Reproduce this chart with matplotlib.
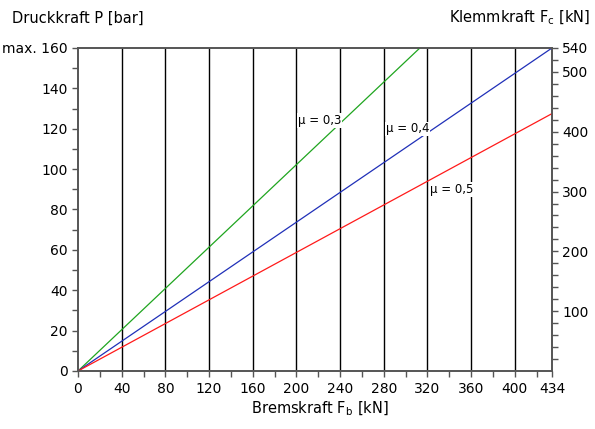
import numpy as np
import matplotlib
matplotlib.use('Agg')
import matplotlib.pyplot as plt

# Bremskraft Fb [kN] vs Druckkraft P [bar], one line per friction value
mu_labels = ['\u03bc = 0,3', '\u03bc = 0,4', '\u03bc = 0,5']
fb_03 = [0, 313]
p_03 = [0, 160]
fb_04 = [0, 434]
p_04 = [0, 160]
fb_05 = [0, 434]
p_05 = [0, 127.5]

x_ticks = [0, 40, 80, 120, 160, 200, 240, 280, 320, 360, 400, 434]
p_ticks = [0, 20, 40, 60, 80, 100, 120, 140, 160]
p_labels = ['0', '20', '40', '60', '80', '100', '120', '140', 'max. 160']
fc_ticks = [100, 200, 300, 400, 500, 540]

# label anchor points (data coords)
lab_pos = [(201, 124), (282, 120), (322, 90)]

matplotlib.rcParams.update({'font.family': 'DejaVu Sans',
                            'font.size': 10})

fig = plt.figure(figsize=(5.95, 4.29), dpi=100)
ax = fig.add_axes([78/595, 1-371/429, 474/595, 323/429])

colors = ['#1fa51f', '#2030b8', '#ff1a1a']
for (xs, ys), c in zip([(fb_03, p_03), (fb_04, p_04), (fb_05, p_05)], colors):
    ax.plot(xs, ys, color=c, linewidth=0.9, zorder=3)

for lab, (lx, ly) in zip(mu_labels, lab_pos):
    ax.text(lx, ly, lab, fontsize=8.5, ha='left', va='center', zorder=4,
            bbox=dict(facecolor='white', edgecolor='none', pad=0.5))

ax.set_xlim(0, 434)
ax.set_ylim(0, 160)
for xv in x_ticks[1:-1]:
    ax.axvline(xv, color='black', linewidth=1, zorder=1)

spine_col = '#555555'
for s in ax.spines.values():
    s.set_color(spine_col)
    s.set_linewidth(1.2)

ax.set_xticks(x_ticks)
ax.set_xticks(np.arange(20, 434, 40), minor=True)
ax.set_yticks(p_ticks)
ax.set_yticklabels(p_labels)
ax.set_yticks(np.arange(10, 160, 20), minor=True)
ax.tick_params(which='both', direction='out', length=4, width=1, color=spine_col, labelsize=10)
ax.tick_params(axis='x', pad=4)

ax2 = ax.twinx()
ax2.set_ylim(0, 540)
ax2.set_yticks(fc_ticks)
ax2.set_yticks(np.arange(20, 540, 20), minor=True)
ax2.tick_params(which='both', direction='out', length=4, width=1, color=spine_col, labelsize=10)
for s in ax2.spines.values():
    s.set_color(spine_col)
    s.set_linewidth(1.2)

fig.text(12/595, 1-18/429, 'Druckkraft P [bar]', fontsize=10.5, ha='left', va='center')
fig.text(590/595, 1-18/429, 'Klemmkraft F$_\\mathregular{c}$ [kN]', fontsize=10.5, ha='right', va='center')
fig.text(320/595, 1-409/429, 'Bremskraft F$_\\mathregular{b}$ [kN]', fontsize=10.5, ha='center', va='center')

fig.savefig('out.png', dpi=100)
